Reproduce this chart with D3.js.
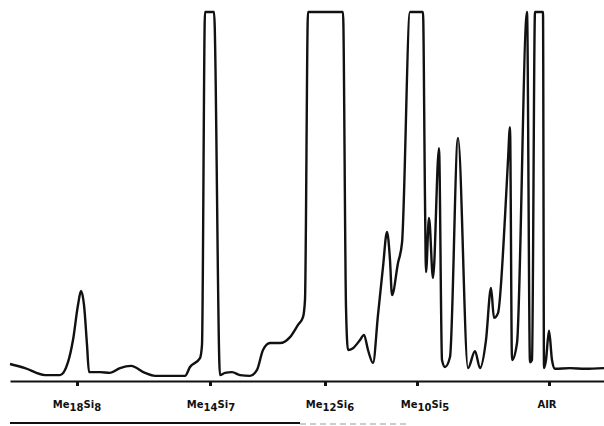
<!DOCTYPE html>
<html>
<head>
<meta charset="utf-8">
<script src="https://cdn.jsdelivr.net/npm/d3@7"></script>
<style>
body { margin: 0; background: #fff; }
svg { display: block; }
.lbl { font-family: "DejaVu Sans", sans-serif; font-weight: bold; font-size: 10px; fill: #111; }
</style>
</head>
<body>
<div id="chart"></div>
<script>
var width = 604,
    height = 426,
    margin = {top: 12, bottom: 45, left: 10, right: 0}

// chart distance along the strip (arbitrary units) and detector signal (% of full scale)
var retention = [0, 15, 35, 50, 58, 63, 68, 71, 74, 77, 79, 90, 100, 110, 121, 135, 145, 175, 180, 190, 192,
  195, 204, 210, 215, 222, 230, 240, 247, 253, 260, 270, 280, 288, 293, 295,
  298, 333, 336, 338, 343, 350, 354, 358, 363, 368, 373, 377, 380, 382, 388, 392,
  400, 413, 415, 416, 419, 423, 429, 432, 435, 440, 448, 458, 465, 470, 476, 481, 484, 488,
  495, 498, 500, 502, 507, 517, 520, 522, 525, 533, 534, 536, 539, 542, 545, 560, 575, 594]
var signal = [4.6, 3.5, 1.6, 1.6, 5.1, 11.1, 20.6, 24.4, 20.6, 9.8, 2.4, 2.4, 2.2, 3.5, 4.1, 2.2, 1.4, 1.4, 3.8, 6.2, 9.8,
  100, 100, 1.6, 2.2, 2.4, 1.6, 1.4, 3.0, 8.4, 10.3, 10.3, 11.9, 15.2, 17.3, 22,
  100, 100, 20, 8.4, 8.9, 11.1, 12.5, 8.4, 4.9, 17.9, 30.9, 40.4, 32.8, 23.3, 32, 37.4,
  100, 100, 49, 29.5, 44.2, 27.9, 63.1, 5.7, 3.8, 6.5, 65.9, 3.5, 8.1, 3.5, 11.1, 25.2, 17.1, 18.4,
  44.4, 59.9, 68.8, 5.7, 10.3, 100, 5.1, 5.7, 100, 100, 3.5, 5.7, 13.6, 5.7, 3.3, 3.5, 3.3, 3.5]

// marker positions under the trace
var markers = [67, 200, 315, 407, 539]
var markerLabels = [
  [["Me", 0], ["18", 1], ["Si", 0], ["8", 1]],
  [["Me", 0], ["14", 1], ["Si", 0], ["7", 1]],
  [["Me", 0], ["12", 1], ["Si", 0], ["6", 1]],
  [["Me", 0], ["10", 1], ["Si", 0], ["5", 1]],
  [["AIR", 0]]
]
var labelShift = [0, 1, 5, 8, -2]

var trace = retention.map(function(r, i) { return {x: r, y: signal[i]} })

var svg = d3.select("#chart")
  .append("svg")
  .attr("width", width)
  .attr("height", height)

var x = d3.scaleLinear()
  .domain([0, 594])
  .range([margin.left, width - margin.right])

var y = d3.scaleLinear()
  .domain([0, 100])
  .range([381, margin.top])

var line = d3.line()
  .curve(d3.curveMonotoneX)
  .x(function(d) { return x(d.x) })
  .y(function(d) { return y(d.y) })

svg.append("path")
  .datum(trace)
  .attr("fill", "none")
  .attr("stroke", "#111")
  .attr("stroke-width", 2.4)
  .attr("stroke-linejoin", "round")
  .attr("d", line)

// baseline axis with short tick marks
var axis = svg.append("g")
  .attr("transform", "translate(0," + y(0) + ")")
  .call(d3.axisBottom(x).tickValues(markers).tickSize(5).tickSizeOuter(0).tickFormat(""))

axis.select(".domain").attr("stroke", "#111").attr("stroke-width", 2)
axis.selectAll(".tick line").attr("stroke", "#111").attr("stroke-width", 3)

var labels = svg.append("g")
  .selectAll("text")
  .data(markers)
  .enter().append("text")
  .attr("class", "lbl")
  .attr("text-anchor", "middle")
  .attr("x", function(d, i) { return x(d) + labelShift[i] })
  .attr("y", 408)

labels.each(function(d, i) {
  var t = d3.select(this), prev = 0
  markerLabels[i].forEach(function(p) {
    var off = p[1] ? 3 : 0
    t.append("tspan")
      .attr("dy", off - prev)
      .text(p[0])
    prev = off
  })
})

// edge of the printed strip
svg.append("line")
  .attr("x1", 10).attr("x2", 300)
  .attr("y1", 423).attr("y2", 423)
  .attr("stroke", "#111")
  .attr("stroke-width", 2)
svg.append("line")
  .attr("x1", 300).attr("x2", 410)
  .attr("y1", 424).attr("y2", 424)
  .attr("stroke", "#999")
  .attr("stroke-width", 1)
  .attr("stroke-dasharray", "6,4")
</script>
</body>
</html>
